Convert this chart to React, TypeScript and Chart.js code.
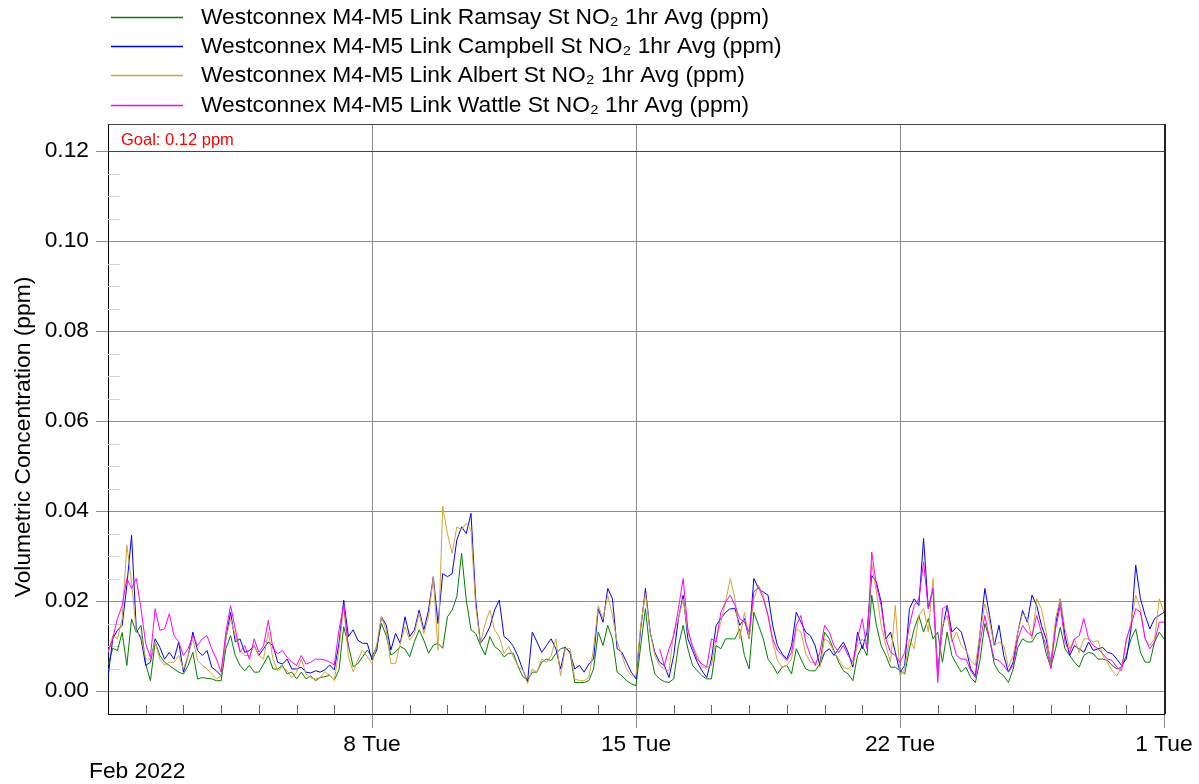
import React, { useEffect, useRef } from "react";
import { Chart, registerables } from "chart.js";

Chart.register(...registerables);

// ---------- data ----------
const STEP_HOURS = 3; // samples every 3 hours, starting 1 Feb 2022 00:00
const MONTH_LABEL = "Feb 2022";
const X_TICK_HOURS = [168, 336, 504, 672];
const X_TICK_LABELS = ["8 Tue", "15 Tue", "22 Tue", "1 Tue"];
const Y_TICKS = [0, 0.02, 0.04, 0.06, 0.08, 0.1, 0.12];
const GOAL = 0.12;
const GOAL_LABEL = "Goal: 0.12 ppm";
const Y_TITLE = "Volumetric Concentration (ppm)";

const SERIES_NAMES = [
  "Westconnex M4-M5 Link Ramsay St NO\u2082 1hr Avg (ppm)",
  "Westconnex M4-M5 Link Campbell St NO\u2082 1hr Avg (ppm)",
  "Westconnex M4-M5 Link Albert St NO\u2082 1hr Avg (ppm)",
  "Westconnex M4-M5 Link Wattle St NO\u2082 1hr Avg (ppm)",
];
const SERIES_COLORS = ["#008000", "#0000ff", "#d4a437", "#ff00ff"];

const RAMSAY = [
  0.0057, 0.0095, 0.0090, 0.0130, 0.0057, 0.0160, 0.0130, 0.0146,
  0.0060, 0.0023, 0.0109, 0.0079, 0.0064, 0.0057, 0.0049, 0.0042,
  0.0038, 0.0057, 0.0086, 0.0027, 0.0030, 0.0028, 0.0027, 0.0023,
  0.0023, 0.0094, 0.0123, 0.0079, 0.0057, 0.0045, 0.0057, 0.0042,
  0.0042, 0.0060, 0.0079, 0.0049, 0.0049, 0.0057, 0.0038, 0.0042,
  0.0027, 0.0042, 0.0027, 0.0034, 0.0023, 0.0030, 0.0032, 0.0035,
  0.0024, 0.0047, 0.0143, 0.0102, 0.0054, 0.0061, 0.0076, 0.0091,
  0.0076, 0.0099, 0.0150, 0.0124, 0.0080, 0.0087, 0.0099, 0.0093,
  0.0076, 0.0110, 0.0136, 0.0113, 0.0084, 0.0102, 0.0106, 0.0095,
  0.0165, 0.0180, 0.0210, 0.0306, 0.0202, 0.0136, 0.0128, 0.0102,
  0.0080, 0.0121, 0.0099, 0.0091, 0.0076, 0.0084, 0.0084, 0.0054,
  0.0032, 0.0024, 0.0042, 0.0042, 0.0064, 0.0071, 0.0068, 0.0083,
  0.0094, 0.0097, 0.0086, 0.0019, 0.0019, 0.0019, 0.0023, 0.0049,
  0.0131, 0.0101, 0.0146, 0.0116, 0.0042, 0.0034, 0.0023, 0.0016,
  0.0012, 0.0101, 0.0183, 0.0086, 0.0038, 0.0027, 0.0021, 0.0019,
  0.0027, 0.0101, 0.0146, 0.0094, 0.0057, 0.0045, 0.0034, 0.0027,
  0.0027, 0.0101, 0.0094, 0.0116, 0.0116, 0.0116, 0.0138, 0.0079,
  0.0049, 0.0175, 0.0146, 0.0116, 0.0071, 0.0057, 0.0038, 0.0053,
  0.0057, 0.0038, 0.0094, 0.0071, 0.0049, 0.0045, 0.0045, 0.0060,
  0.0131, 0.0116, 0.0090, 0.0064, 0.0045, 0.0038, 0.0023, 0.0079,
  0.0101, 0.0079, 0.0213, 0.0146, 0.0101, 0.0079, 0.0053, 0.0053,
  0.0045, 0.0038, 0.0094, 0.0138, 0.0168, 0.0131, 0.0161, 0.0116,
  0.0131, 0.0064, 0.0131, 0.0079, 0.0060, 0.0042, 0.0053, 0.0030,
  0.0019, 0.0071, 0.0150, 0.0116, 0.0060, 0.0042, 0.0034, 0.0019,
  0.0049, 0.0097, 0.0116, 0.0109, 0.0109, 0.0127, 0.0131, 0.0083,
  0.0053, 0.0094, 0.0142, 0.0094, 0.0079, 0.0064, 0.0053, 0.0079,
  0.0086, 0.0083, 0.0071, 0.0071, 0.0068, 0.0057, 0.0049, 0.0053,
  0.0079, 0.0116, 0.0138, 0.0086, 0.0064, 0.0064, 0.0109, 0.0131,
  0.0116,
];

const CAMPBELL = [
  0.0030, 0.0116, 0.0135, 0.0146, 0.0235, 0.0346, 0.0138, 0.0116,
  0.0057, 0.0064, 0.0116, 0.0097, 0.0071, 0.0086, 0.0071, 0.0109,
  0.0042, 0.0079, 0.0131, 0.0090, 0.0079, 0.0090, 0.0053, 0.0045,
  0.0034, 0.0116, 0.0175, 0.0109, 0.0116, 0.0086, 0.0090, 0.0101,
  0.0079, 0.0094, 0.0109, 0.0101, 0.0064, 0.0060, 0.0071, 0.0049,
  0.0049, 0.0053, 0.0042, 0.0040, 0.0045, 0.0042, 0.0047, 0.0058,
  0.0047, 0.0106, 0.0202, 0.0121, 0.0136, 0.0113, 0.0106, 0.0106,
  0.0069, 0.0091, 0.0165, 0.0147, 0.0091, 0.0128, 0.0106, 0.0165,
  0.0121, 0.0136, 0.0180, 0.0136, 0.0180, 0.0254, 0.0150, 0.0261,
  0.0254, 0.0261, 0.0336, 0.0365, 0.0350, 0.0395, 0.0202, 0.0106,
  0.0121, 0.0143, 0.0180, 0.0202, 0.0121, 0.0113, 0.0099, 0.0076,
  0.0047, 0.0021, 0.0131, 0.0109, 0.0086, 0.0101, 0.0116, 0.0094,
  0.0049, 0.0097, 0.0086, 0.0049, 0.0057, 0.0042, 0.0060, 0.0071,
  0.0183, 0.0153, 0.0228, 0.0205, 0.0094, 0.0086, 0.0064, 0.0042,
  0.0027, 0.0138, 0.0228, 0.0131, 0.0086, 0.0064, 0.0057, 0.0030,
  0.0079, 0.0161, 0.0213, 0.0116, 0.0090, 0.0064, 0.0045, 0.0030,
  0.0071, 0.0146, 0.0161, 0.0175, 0.0183, 0.0183, 0.0146, 0.0161,
  0.0116, 0.0250, 0.0228, 0.0220, 0.0213, 0.0146, 0.0101, 0.0083,
  0.0071, 0.0101, 0.0175, 0.0153, 0.0131, 0.0123, 0.0101, 0.0057,
  0.0086, 0.0094, 0.0079, 0.0094, 0.0109, 0.0086, 0.0053, 0.0131,
  0.0094, 0.0131, 0.0257, 0.0242, 0.0198, 0.0116, 0.0131, 0.0086,
  0.0042, 0.0057, 0.0183, 0.0205, 0.0190, 0.0339, 0.0183, 0.0228,
  0.0042, 0.0138, 0.0190, 0.0131, 0.0142, 0.0131, 0.0094, 0.0049,
  0.0034, 0.0131, 0.0228, 0.0168, 0.0101, 0.0146, 0.0079, 0.0042,
  0.0064, 0.0131, 0.0179, 0.0153, 0.0213, 0.0190, 0.0146, 0.0116,
  0.0064, 0.0146, 0.0205, 0.0123, 0.0079, 0.0101, 0.0094, 0.0086,
  0.0109, 0.0090, 0.0094, 0.0097, 0.0086, 0.0083, 0.0071, 0.0057,
  0.0071, 0.0138, 0.0280, 0.0205, 0.0168, 0.0138, 0.0161, 0.0168,
  0.0175,
];

const ALBERT = [
  0.0086, 0.0123, 0.0116, 0.0161, 0.0324, 0.0242, 0.0131, 0.0123,
  0.0071, 0.0071, 0.0109, 0.0071, 0.0057, 0.0064, 0.0064, 0.0079,
  0.0049, 0.0079, 0.0116, 0.0068, 0.0057, 0.0049, 0.0038, 0.0027,
  0.0034, 0.0116, 0.0161, 0.0123, 0.0090, 0.0079, 0.0079, 0.0101,
  0.0079, 0.0071, 0.0131, 0.0071, 0.0045, 0.0053, 0.0045, 0.0030,
  0.0042, 0.0071, 0.0038, 0.0030, 0.0027, 0.0030, 0.0043, 0.0035,
  0.0024, 0.0091, 0.0191, 0.0076, 0.0043, 0.0069, 0.0091, 0.0076,
  0.0061, 0.0102, 0.0165, 0.0136, 0.0061, 0.0061, 0.0106, 0.0143,
  0.0113, 0.0128, 0.0173, 0.0128, 0.0165, 0.0254, 0.0091, 0.0410,
  0.0350, 0.0306, 0.0365, 0.0358, 0.0373, 0.0358, 0.0187, 0.0106,
  0.0150, 0.0180, 0.0136, 0.0121, 0.0084, 0.0099, 0.0076, 0.0054,
  0.0047, 0.0017, 0.0049, 0.0042, 0.0071, 0.0064, 0.0079, 0.0116,
  0.0034, 0.0094, 0.0094, 0.0027, 0.0023, 0.0023, 0.0030, 0.0094,
  0.0190, 0.0161, 0.0213, 0.0168, 0.0109, 0.0079, 0.0049, 0.0034,
  0.0034, 0.0146, 0.0217, 0.0131, 0.0079, 0.0057, 0.0049, 0.0045,
  0.0131, 0.0161, 0.0205, 0.0131, 0.0101, 0.0079, 0.0053, 0.0053,
  0.0057, 0.0116, 0.0153, 0.0198, 0.0250, 0.0205, 0.0116, 0.0175,
  0.0116, 0.0205, 0.0235, 0.0213, 0.0168, 0.0109, 0.0068, 0.0053,
  0.0057, 0.0071, 0.0138, 0.0131, 0.0083, 0.0064, 0.0064, 0.0053,
  0.0116, 0.0109, 0.0086, 0.0071, 0.0053, 0.0049, 0.0060, 0.0101,
  0.0116, 0.0101, 0.0283, 0.0220, 0.0146, 0.0101, 0.0064, 0.0190,
  0.0034, 0.0049, 0.0116, 0.0094, 0.0168, 0.0183, 0.0131, 0.0250,
  0.0027, 0.0146, 0.0168, 0.0109, 0.0131, 0.0101, 0.0090, 0.0068,
  0.0057, 0.0131, 0.0194, 0.0153, 0.0101, 0.0109, 0.0101, 0.0053,
  0.0079, 0.0131, 0.0172, 0.0161, 0.0116, 0.0205, 0.0183, 0.0131,
  0.0057, 0.0161, 0.0205, 0.0138, 0.0094, 0.0116, 0.0086, 0.0116,
  0.0116, 0.0109, 0.0112, 0.0079, 0.0064, 0.0045, 0.0034, 0.0053,
  0.0109, 0.0153, 0.0213, 0.0183, 0.0116, 0.0101, 0.0116, 0.0205,
  0.0175,
];

const WATTLE = [
  0.0086, 0.0116, 0.0161, 0.0190, 0.0250, 0.0228, 0.0250, 0.0183,
  0.0105, 0.0075, 0.0183, 0.0135, 0.0138, 0.0172, 0.0123, 0.0109,
  0.0079, 0.0094, 0.0123, 0.0101, 0.0116, 0.0123, 0.0094, 0.0071,
  0.0042, 0.0131, 0.0190, 0.0138, 0.0086, 0.0101, 0.0071, 0.0116,
  0.0086, 0.0101, 0.0157, 0.0094, 0.0083, 0.0090, 0.0075, 0.0064,
  0.0057, 0.0079, 0.0060, 0.0064, 0.0071, 0.0071, 0.0069, 0.0065,
  0.0058, 0.0136, 0.0191, 0.0099, null, null, null, null,
  null, null, null, null, null, null, null, null,
  null, null, null, null, null, null, null, null,
  null, null, null, null, null, null, null, null,
  null, null, null, null, null, null, null, null,
  null, null, null, null, null, null, null, null,
  null, null, null, null, null, null, null, null,
  null, null, null, null, null, null, null, null,
  null, null, null, null, null, 0.0094, 0.0057, 0.0094,
  0.0123, 0.0183, 0.0250, 0.0138, 0.0097, 0.0071, 0.0060, 0.0053,
  0.0116, 0.0109, 0.0175, 0.0198, 0.0213, 0.0190, 0.0161, 0.0153,
  0.0131, 0.0220, 0.0231, 0.0205, 0.0168, 0.0116, 0.0090, 0.0079,
  0.0068, 0.0086, 0.0146, 0.0168, 0.0109, 0.0079, 0.0057, 0.0086,
  0.0146, 0.0131, 0.0101, 0.0086, 0.0101, 0.0079, 0.0064, 0.0116,
  0.0161, 0.0094, 0.0309, 0.0235, 0.0190, 0.0116, 0.0086, 0.0079,
  0.0064, 0.0086, 0.0146, 0.0190, 0.0205, 0.0287, 0.0183, 0.0228,
  0.0019, 0.0183, 0.0190, 0.0116, 0.0079, 0.0071, 0.0071, 0.0045,
  0.0030, 0.0109, 0.0168, 0.0116, 0.0071, 0.0068, 0.0057, 0.0042,
  0.0057, 0.0116, 0.0146, 0.0131, 0.0123, 0.0168, 0.0131, 0.0101,
  0.0049, 0.0138, 0.0190, 0.0109, 0.0086, 0.0116, 0.0123, 0.0161,
  0.0116, 0.0101, 0.0094, 0.0083, 0.0071, 0.0068, 0.0053, 0.0045,
  0.0116, 0.0146, 0.0183, 0.0175, 0.0116, 0.0094, 0.0109, 0.0153,
  0.0153,
];

const SERIES_VALUES = [RAMSAY, CAMPBELL, ALBERT, WATTLE];
const SERIES_ORDER = [4, 3, 2, 1];

const FONT = "'Liberation Sans', Arial, sans-serif";
const TEXT_SIZE = 22.8;

const decorPlugin = {
  id: "decor",
  beforeDraw(chart: any) {
    const { ctx, width, height } = chart;
    ctx.save();
    ctx.fillStyle = "#ffffff";
    ctx.fillRect(0, 0, width, height);
    ctx.restore();
  },
  beforeDatasetsDraw(chart: any) {
    const { ctx, chartArea } = chart;
    const xs = chart.scales.x;
    const ys = chart.scales.y;
    ctx.save();
    // minor daily ticks along bottom (inside)
    ctx.strokeStyle = "#666";
    ctx.lineWidth = 1;
    for (let h = 24; h < 672; h += 24) {
      if (h % 168 === 0) continue;
      const x = Math.round(xs.getPixelForValue(h)) + 0.5;
      ctx.beginPath();
      ctx.moveTo(x, chartArea.bottom);
      ctx.lineTo(x, chartArea.bottom - 9);
      ctx.stroke();
    }
    // minor y ticks (inside, light)
    ctx.strokeStyle = "#d4d4d4";
    for (let k = 1; k <= 23; k++) {
      if (k % 4 === 0) continue;
      const y = Math.round(ys.getPixelForValue(k * 0.005)) + 0.5;
      ctx.beginPath();
      ctx.moveTo(chartArea.left, y);
      ctx.lineTo(chartArea.left + 12, y);
      ctx.stroke();
    }
    // goal line
    const gy = Math.round(ys.getPixelForValue(GOAL)) + 0.5;
    ctx.strokeStyle = "#e00000";
    ctx.beginPath();
    ctx.moveTo(chartArea.left, gy);
    ctx.lineTo(chartArea.right, gy);
    ctx.stroke();
    ctx.fillStyle = "#ff0000";
    ctx.font = `16.5px ${FONT}`;
    ctx.textBaseline = "alphabetic";
    ctx.textAlign = "left";
    ctx.fillText(GOAL_LABEL, chartArea.left + 13, gy - 6.5);
    ctx.restore();
  },
  afterDraw(chart: any) {
    const { ctx, chartArea } = chart;
    ctx.save();
    // top & right borders
    ctx.strokeStyle = "#444";
    ctx.lineWidth = 1;
    ctx.beginPath();
    ctx.moveTo(chartArea.left, chartArea.top + 0.5);
    ctx.lineTo(chartArea.right, chartArea.top + 0.5);
    ctx.stroke();
    ctx.strokeStyle = "#222";
    ctx.lineWidth = 2;
    ctx.beginPath();
    ctx.moveTo(chartArea.right + 1, chartArea.top);
    ctx.lineTo(chartArea.right + 1, chartArea.bottom);
    ctx.stroke();

    // legend
    ctx.font = `${TEXT_SIZE}px ${FONT}`;
    ctx.textAlign = "left";
    ctx.textBaseline = "alphabetic";
    for (let i = 0; i < SERIES_NAMES.length; i++) {
      const y = 17 + 29.2 * i;
      ctx.strokeStyle = SERIES_COLORS[i];
      ctx.lineWidth = 1.6;
      ctx.beginPath();
      ctx.moveTo(111, Math.round(y) + 0.5);
      ctx.lineTo(183, Math.round(y) + 0.5);
      ctx.stroke();
      ctx.fillStyle = "#000";
      ctx.fillText(SERIES_NAMES[i], 201, y + 7);
    }

    // y axis title
    ctx.save();
    ctx.translate(30, 437);
    ctx.rotate(-Math.PI / 2);
    ctx.textAlign = "center";
    ctx.textBaseline = "alphabetic";
    ctx.fillStyle = "#000";
    ctx.fillText(Y_TITLE, 0, 0);
    ctx.restore();

    // month label
    ctx.fillStyle = "#000";
    ctx.textAlign = "left";
    ctx.fillText(MONTH_LABEL, 89, 778);
    ctx.restore();
  },
};

export default function App() {
  const canvasRef = useRef<HTMLCanvasElement | null>(null);

  useEffect(() => {
    document.body.style.margin = "0";
    const canvas = canvasRef.current;
    if (!canvas) return;

    const datasets = SERIES_VALUES.map((vals, si) => ({
      label: SERIES_NAMES[si],
      data: vals.map((v, i) => ({ x: i * STEP_HOURS, y: v })),
      borderColor: SERIES_COLORS[si],
      backgroundColor: SERIES_COLORS[si],
      borderWidth: 1,
      pointRadius: 0,
      tension: 0,
      fill: false,
      spanGaps: false,
      order: SERIES_ORDER[si],
    }));

    const chart = new Chart(canvas, {
      type: "line",
      data: { datasets },
      plugins: [decorPlugin],
      options: {
        responsive: false,
        animation: false,
        devicePixelRatio: 1,
        layout: { autoPadding: false, padding: { top: 124, right: 35, bottom: 0, left: 0 } },
        plugins: {
          legend: { display: false },
          tooltip: { enabled: false },
          title: { display: false },
        },
        scales: {
          x: {
            type: "linear",
            min: 0,
            max: 672,
            afterFit: (s: any) => {
              s.height = 70;
            },
            afterBuildTicks: (s: any) => {
              s.ticks = X_TICK_HOURS.map((v) => ({ value: v }));
            },
            ticks: {
              autoSkip: false,
              maxRotation: 0,
              minRotation: 0,
              padding: 3,
              color: "#000",
              font: { family: FONT, size: TEXT_SIZE },
              callback: (value: any) => {
                const idx = X_TICK_HOURS.indexOf(Number(value));
                return idx >= 0 ? X_TICK_LABELS[idx] : "";
              },
            },
            grid: {
              color: "#8c8c8c",
              lineWidth: 1,
              drawTicks: true,
              tickLength: 14,
              tickColor: "#8c8c8c",
            },
            border: { display: true, color: "#000", width: 1 },
          },
          y: {
            type: "linear",
            min: -0.0051,
            max: 0.126,
            afterFit: (s: any) => {
              s.width = 108;
            },
            afterBuildTicks: (s: any) => {
              s.ticks = Y_TICKS.map((v) => ({ value: v }));
            },
            ticks: {
              padding: 7,
              color: "#000",
              font: { family: FONT, size: TEXT_SIZE },
              callback: (value: any) => Number(value).toFixed(2),
            },
            grid: {
              color: "#8c8c8c",
              lineWidth: 1,
              drawTicks: true,
              tickLength: 12,
              tickColor: "#8c8c8c",
            },
            border: { display: true, color: "#000", width: 1 },
          },
        },
      },
    } as any);

    return () => {
      chart.destroy();
    };
  }, []);

  return (
    <div style={{ position: "absolute", left: 0, top: 0, width: 1199, height: 784 }}>
      <canvas ref={canvasRef} width={1199} height={784} style={{ display: "block" }} />
    </div>
  );
}
